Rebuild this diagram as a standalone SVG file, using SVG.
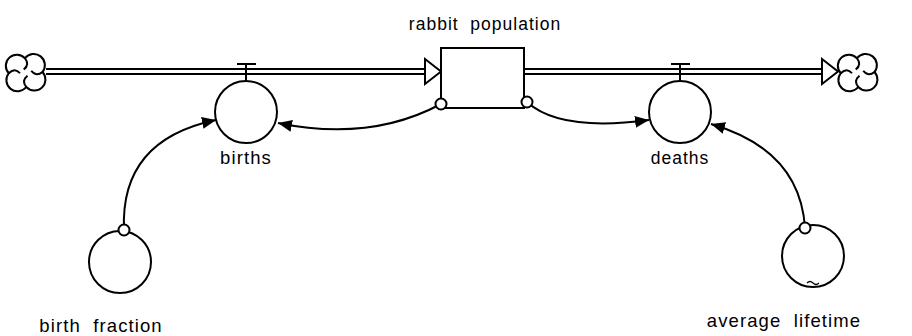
<svg xmlns="http://www.w3.org/2000/svg" width="912" height="336" viewBox="0 0 912 336">
  <style>
    .ln { fill: none; stroke: #000; stroke-width: 2; }
    .aux { fill: #fff; stroke: #000; stroke-width: 2; }
    .cl { fill: none; stroke: #000; stroke-width: 1.6; }
    .lbl { font-family: "Liberation Sans", Arial, sans-serif; font-size: 18.5px; letter-spacing: 1.1px; fill: #000; text-anchor: middle; white-space: pre; }
    .sm { font-size: 17.5px; letter-spacing: 1px; }
  </style>
  <defs>
    <marker id="arr" markerUnits="userSpaceOnUse" markerWidth="16" markerHeight="14" refX="14" refY="6" orient="auto">
      <path d="M0,0 L14,6 L0,12 Z" fill="#000"/>
    </marker>
    <g id="cloud">
      <path class="cl" fill="#fff" d="M0,-11 A8 8 0 1 1 14,0 A8 8 0 1 1 1,12 A8 8 0 1 1 -13,1 A8 8 0 1 1 0,-11 Z"/>
      <path class="cl" d="M0,-11 Q4,-6 -1,-2 M14,0 Q9,4 5,-1 M1,12 Q-3,7 2,3 M-13,1 Q-8,-4 -4,1"/>
    </g>
  </defs>

  <!-- flow pipes -->
  <g id="flows">
    <path class="ln" d="M46,69 H426 M46,74 H426"/>
    <path class="aux" d="M425,59 L441,71.5 L425,84 Z"/>
    <path class="ln" d="M525,69 H823 M525,74 H823"/>
    <path class="aux" d="M822,59 L838,71.5 L822,84 Z"/>
  </g>

  <g id="source"><use href="#cloud" transform="translate(25 72) scale(1.25)"/></g>
  <g id="sink"><use href="#cloud" transform="translate(857 72) scale(1.25)"/></g>

  <g id="rabbit_population">
    <rect class="aux" x="441" y="48" width="83" height="60"/>
    <text class="lbl sm" x="485" y="30">rabbit  population</text>
  </g>

  <g id="births">
    <path class="ln" d="M237,64 H256 M246,64 V81"/>
    <circle class="aux" cx="246" cy="112" r="31"/>
    <text class="lbl" x="246" y="164">births</text>
  </g>

  <g id="deaths">
    <path class="ln" d="M671,64 H690 M680,64 V81"/>
    <circle class="aux" cx="680" cy="112" r="31"/>
    <text class="lbl sm" x="680" y="164">deaths</text>
  </g>

  <g id="birth_fraction">
    <circle class="aux" cx="120" cy="262" r="31"/>
    <text class="lbl" x="101" y="332">birth  fraction</text>
  </g>

  <g id="average_lifetime">
    <circle class="aux" cx="813" cy="256" r="31"/>
    <path class="ln" d="M807,283 q3,-3 6,0 t6,0" style="stroke-width:1.2"/>
    <text class="lbl" x="784" y="327">average  lifetime</text>
  </g>

  <!-- information links -->
  <g id="connectors">
    <path class="ln" d="M441,104 Q370,142 278,123" marker-end="url(#arr)"/>
    <path class="ln" d="M527,102 Q560,132 649,120" marker-end="url(#arr)"/>
    <path class="ln" d="M124,230 Q120,140 216,120" marker-end="url(#arr)"/>
    <path class="ln" d="M805,228 Q800,150 711,124" marker-end="url(#arr)"/>
    <circle class="aux" cx="441" cy="104" r="5.5"/>
    <circle class="aux" cx="527" cy="102" r="5.5"/>
    <circle class="aux" cx="124" cy="230" r="5.5"/>
    <circle class="aux" cx="805" cy="228" r="5.5"/>
  </g>
</svg>
